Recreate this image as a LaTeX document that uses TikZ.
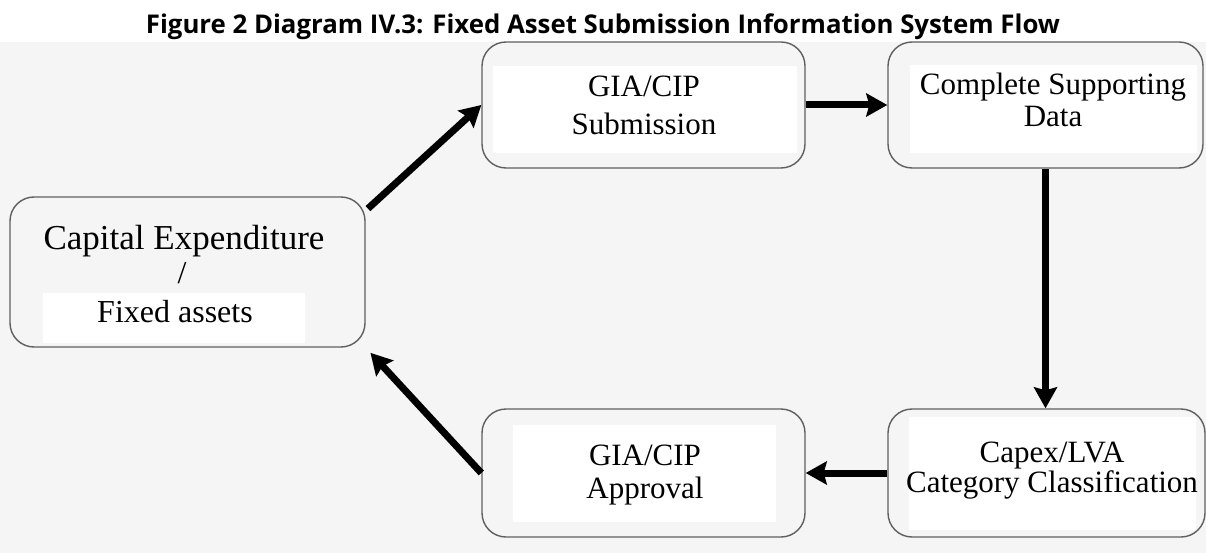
\documentclass[tikz,border=0pt]{standalone}
\usepackage{fontspec}
\setmainfont{Liberation Serif}
\newfontfamily\headfont{Open Sans}
\usetikzlibrary{arrows.meta}
\definecolor{paper}{RGB}{245,245,245}
\definecolor{rim}{RGB}{95,95,95}
\tikzset{
  stage/.style={draw=rim, line width=1.4pt, rounded corners=24pt, fill=paper, inner sep=0pt},
  patch/.style={fill=white},
  words/.style={anchor=base, inner sep=0pt, font=\fontsize{31}{37}\selectfont},
  flow/.style={line width=7pt, -{Stealth[length=21pt, width=23pt, inset=3pt]}},
}
\begin{document}
\begin{tikzpicture}[x=1pt, y=-1pt]
    \useasboundingbox (0, 0) rectangle (1206, 553);
    \fill[white] (0, 0) rectangle (1206, 553);
    \fill[paper] (0, 42) rectangle (1206, 553);
    \node[anchor=base, inner sep=0pt, font=\headfont\bfseries\fontsize{25.8}{30}\selectfont] (title) at (603, 34)
         {Figure 2 Diagram IV.3: Fixed Asset Submission Information System Flow};
    % the five stages
    \node[stage, minimum width=355pt, minimum height=150pt] (cap) at (187.5, 272) {};
    \node[stage, minimum width=323pt, minimum height=126pt] (submit) at (643.5, 105) {};
    \node[stage, minimum width=315pt, minimum height=126pt] (support) at (1045.5, 105) {};
    \node[stage, minimum width=317pt, minimum height=128pt] (classify) at (1046.5, 473) {};
    \node[stage, minimum width=323pt, minimum height=128pt] (approve) at (643.5, 473) {};
    \fill[patch] (43, 293) rectangle (305, 343);
    \fill[patch] (493, 66) rectangle (797, 153);
    \fill[patch] (910, 65) rectangle (1197, 153);
    \fill[patch] (909, 417) rectangle (1196, 530);
    \fill[patch] (513, 425) rectangle (776, 522);
    % labels
    \node[words, font=\fontsize{35}{40}\selectfont] (cap-1) at (184, 250) {Capital Expenditure};
    \node[words, font=\fontsize{32}{37}\selectfont] (cap-2) at (182, 283) {/};
    \node[words, font=\fontsize{32}{37}\selectfont] (cap-3) at (175, 322) {Fixed assets};
    \node[words] (submit-1) at (644, 97) {GIA/CIP};
    \node[words] (submit-2) at (644, 135) {Submission};
    \node[words] (support-1) at (1053, 95) {Complete Supporting};
    \node[words] (support-2) at (1053, 127) {Data};
    \node[words] (classify-1) at (1052, 462) {Capex/LVA};
    \node[words] (classify-2) at (1052, 492) {Category Classification};
    \node[words] (approve-1) at (645, 465) {GIA/CIP};
    \node[words] (approve-2) at (645, 498) {Approval};
    % flow between stages
    \draw[flow, shorten <=3pt] (cap.19) -- (submit.west);
    \draw[flow] (submit.east) -- (support.west);
    \draw[flow] (support.south) -- (support.south |- classify.north);
    \draw[flow] (classify.west) -- (approve.east);
    \draw[flow, shorten >=7pt] (approve.west) -- (cap.south east);
\end{tikzpicture}
\end{document}
